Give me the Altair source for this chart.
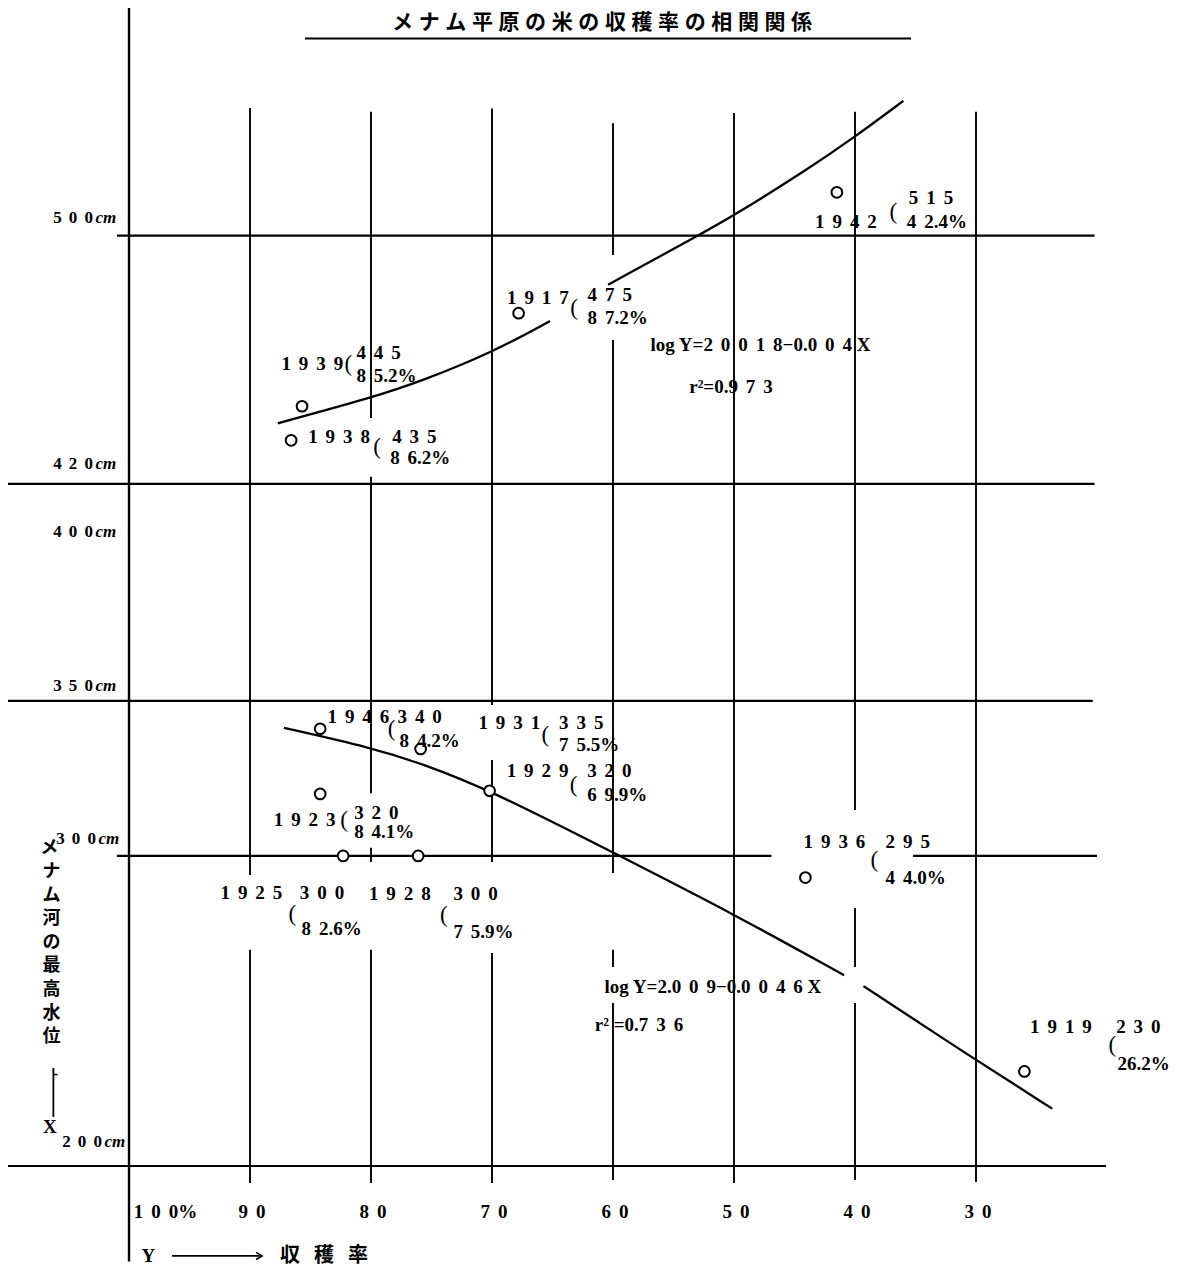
import altair as alt
import pandas as pd

# ---------------- data ----------------
title_text = "メナム平原の米の収穫率の相関関係"
y_title_chars = list("メナム河の最高水位")
x_title_chars = list("収穫率")

years = ["1942", "1917", "1939", "1938", "1946", "1931", "1929", "1923", "1925", "1928", "1936", "1919"]
harvest = [41.5, 67.8, 85.7, 86.6, 84.2, 75.9, 70.2, 84.2, 82.3, 76.1, 44.1, 26.0]   # % (plotted position)
level = [514, 475, 445, 434, 341, 334.5, 321, 320, 300, 300, 293, 230.5]             # cm (plotted position)
level_txt = ["515", "475", "445", "435", "340", "335", "320", "320", "300", "300", "295", "230"]
pct_txt = ["42.4%", "87.2%", "85.2%", "86.2%", "84.2%", "75.5%", "69.9%", "84.1%", "82.6%", "75.9%", "44.0%", "26.2%"]
pct_tight = ["1919"]   # printed without extra letter spacing

# fitted curves
upper_x = [87.7, 79.8, 75.9, 69.9, 65.2, 60.4, 52.8, 50.1, 43.8, 40.1, 36.0]
upper_y = [439.5, 447.9, 453.0, 462.5, 472.5, 484.2, 500.4, 506.3, 521.7, 531.6, 543.5]
upper_seg = ["a"] * 5 + ["b"] * 6
lower_x = [87.2, 79.8, 75.9, 70.2, 59.7, 50.0, 40.9, 39.3, 30.1, 23.7]
lower_y = [341.3, 334.7, 329.9, 321.3, 300.5, 281.2, 261.5, 258.0, 234.4, 218.5]
lower_seg = ["a"] * 7 + ["b"] * 3

eq_upper = ["log Y=20018−0.004 X", "r²=0.973"]
eq_lower = ["log Y=2.009−0.0046 X", "r² =0.736"]

x_ticks = [100, 90, 80, 70, 60, 50, 40, 30]
x_tick_labels = ["100%", "90", "80", "70", "60", "50", "40", "30"]
y_levels = [500, 420, 400, 350, 300, 200]
y_labels = ["500", "420", "400", "350", "300", "200"]

# ---------------- layout (picture geometry) ----------------
PX_X = 12.1     # pixels per 1 % of harvest rate
PX_Y = 3.101    # pixels per 1 cm of water level
X_DOM = [13.636, 110.0]
Y_DOM = [166.46, 573.43]
W, H = 1166, 1262

# horizontal grid lines: level, from %, to %
hgrid = [(500, 101.0, 20.2), (420, 110.0, 20.2), (350, 110.0, 20.35),
         (300, 101.0, 46.9), (300, 35.2, 20.0), (200, 110.0, 19.26)]
# vertical grid lines: %, top cm, bottom cm  (broken around the labels)
vgrid = [(90, 541.2, 293.8), (90, 269.7, 194.5),
         (80, 540.0, 441.2), (80, 422.3, 320.2), (80, 302.6, 298.0), (80, 269.7, 194.5),
         (70, 541.0, 348.7), (70, 330.9, 298.0), (70, 268.7, 194.5),
         (60, 536.3, 493.8), (60, 466.4, 294.5), (60, 269.7, 264.2), (60, 252.6, 195.5),
         (50, 539.6, 194.5),
         (40, 540.0, 314.8), (40, 283.2, 264.2), (40, 252.6, 195.5),
         (30, 540.0, 194.8)]

# label offsets in pixels (dx right, dy down) for: year, bracket, level, percent
offs = {
    "1942": [(-21.8, 30), (56.6, 20), (72, 5.3), (70, 30)],
    "1917": [(-11.6, -15.3), (55.4, -5.3), (69, -18.3), (69, 5)],
    "1939": [(-20.6, -42), (46.4, -42), (54.4, -53.3), (54.4, -30)],
    "1938": [(17, -3.3), (86, 6.7), (101, -3.3), (99, 18)],
    "1946": [(7.3, -12), (71.3, 0.3), (77.3, -12), (79.3, 12.3)],
    "1931": [(57.8, -26.3), (124.8, -14), (138.5, -26.3), (138.5, -4)],
    "1929": [(17.1, -19.7), (84.1, -6), (97.6, -19.7), (97.6, 4.3)],
    "1923": [(-46.4, 25.7), (24, 25.7), (34, 19), (34, 38.4)],
    "1925": [(-122.7, 36.7), (-50.9, 58.3), (-43.3, 36.7), (-41.7, 73.3)],
    "1928": [(-49.3, 37.7), (25.7, 59.3), (35.2, 37.7), (35.2, 76)],
    "1936": [(-1.8, -36), (68.9, -17.7), (80.2, -36), (80.2, 0.6)],
    "1919": [(5.7, -44.3), (88, -26), (91.8, -44.3), (93, -7.7)],
}

GAP = "\u2004\u200a"


def spaced(s):
    out = ""
    for i, ch in enumerate(s):
        out += ch
        if i + 1 < len(s) and ch.isdigit() and s[i + 1].isdigit():
            out += GAP
    return out


def shift(x, y, dx, dy):
    return x - dx / PX_X, y - dy / PX_Y


SERIF = "Liberation Serif"
CJK = "Noto Sans CJK JP"

xs = alt.Scale(domain=X_DOM, reverse=True, nice=False, zero=False)
ys = alt.Scale(domain=Y_DOM, nice=False, zero=False)


def ex(f="x"):
    return alt.X(f"{f}:Q", scale=xs, axis=None)


def ey(f="y"):
    return alt.Y(f"{f}:Q", scale=ys, axis=None)


def text_layer(rows, **kw):
    df = pd.DataFrame(rows, columns=["x", "y", "t"])
    base = dict(baseline="middle", color="black", font=SERIF, fontSize=19, fontWeight="bold")
    base.update(kw)
    return alt.Chart(df).mark_text(**base).encode(x=ex(), y=ey(), text="t:N")


layers = []

# grid lines
hdf = pd.DataFrame(hgrid, columns=["y", "x", "x2"])
layers.append(alt.Chart(hdf).mark_rule(color="black", strokeWidth=2.2).encode(
    x=ex(), x2="x2:Q", y=ey()))
vdf = pd.DataFrame(vgrid, columns=["x", "y", "y2"])
layers.append(alt.Chart(vdf).mark_rule(color="black", strokeWidth=1.9).encode(
    x=ex(), y=ey(), y2="y2:Q"))
# main vertical axis line (100 %)
adf = pd.DataFrame([(100, Y_DOM[1], 169.2)], columns=["x", "y", "y2"])
layers.append(alt.Chart(adf).mark_rule(color="black", strokeWidth=2.4).encode(
    x=ex(), y=ey(), y2="y2:Q"))

# curves
cdf = pd.concat([
    pd.DataFrame({"x": upper_x, "y": upper_y, "seg": ["u" + s for s in upper_seg]}),
    pd.DataFrame({"x": lower_x, "y": lower_y, "seg": ["l" + s for s in lower_seg]}),
])
layers.append(alt.Chart(cdf).mark_line(color="black", strokeWidth=2.3, interpolate="basis").encode(
    x=ex(), y=ey(), detail="seg:N"))

# points
pdf = pd.DataFrame({"x": harvest, "y": level, "year": years})
layers.append(alt.Chart(pdf).mark_point(shape="circle", size=115, fill="white", fillOpacity=1,
                                        stroke="black", strokeWidth=2, opacity=1).encode(x=ex(), y=ey()))

# point labels
yr_rows, par_rows, top_rows, bot_rows = [], [], [], []
for yv, hx, lv, lt, pt in zip(years, harvest, level, level_txt, pct_txt):
    o = offs[yv]
    yr_rows.append((*shift(hx, lv, *o[0]), spaced(yv)))
    par_rows.append((*shift(hx, lv, *o[1]), "("))
    top_rows.append((*shift(hx, lv, *o[2]), spaced(lt)))
    bot_rows.append((*shift(hx, lv, *o[3]), pt if yv in pct_tight else spaced(pt)))
layers.append(text_layer(yr_rows + top_rows + bot_rows, align="left"))
layers.append(text_layer(par_rows, align="center", fontSize=23, fontWeight="normal"))

# regression equations
layers.append(text_layer([(56.9, 464.8, spaced(eq_upper[0])), (53.7, 451.3, spaced(eq_upper[1])),
                          (60.7, 257.8, spaced(eq_lower[0])), (61.5, 245.5, spaced(eq_lower[1]))],
                         align="left"))

# x tick labels
xt_rows = [(v - 0.17, 185.2, spaced(t)) for v, t in zip(x_ticks[1:], x_tick_labels[1:])]
layers.append(text_layer(xt_rows, align="center"))
layers.append(text_layer([(99.6, 185.2, spaced(x_tick_labels[0]))], align="left"))

# y level labels (number + italic cm)
y_up_px = [17.4, 20, 14, 15, 17, 24]
y_right_px = [0, 0, 0, 0, 3, 9]
num_rows, cm_rows = [], []
for lv, lab, up, rs in zip(y_levels, y_labels, y_up_px, y_right_px):
    yy = lv + up / PX_Y
    num_rows.append((102.98 - rs / PX_X, yy, spaced(lab)))
    cm_rows.append((102.77 - rs / PX_X, yy, "cm"))
layers.append(text_layer(num_rows, align="right", fontSize=17))
layers.append(text_layer(cm_rows, align="left", fontSize=17, fontStyle="italic"))

# y axis title (vertical characters)
vt_rows = [(106.4 + (0.2 if i == 0 else 0), 302.4 - i * 23.6 / PX_Y, ch)
           for i, ch in enumerate(y_title_chars)]
layers.append(text_layer(vt_rows, align="center", font=CJK, fontSize=18))
ar_df = pd.DataFrame([(106.25, 231.6, 215.8)], columns=["x", "y", "y2"])
layers.append(alt.Chart(ar_df).mark_rule(color="black", strokeWidth=1.8).encode(x=ex(), y=ey(), y2="y2:Q"))
tk_df = pd.DataFrame([(106.25, 105.9, 229.5)], columns=["x", "x2", "y"])
layers.append(alt.Chart(tk_df).mark_rule(color="black", strokeWidth=1.5).encode(x=ex(), x2="x2:Q", y=ey()))
layers.append(text_layer([(106.55, 212.5, "X")], align="center"))

# x axis title: Y ——> 収穫率
layers.append(text_layer([(98.4, 171.0, "Y")], align="center"))
xa_df = pd.DataFrame([(96.45, 89.2, 171.0)], columns=["x", "x2", "y"])
layers.append(alt.Chart(xa_df).mark_rule(color="black", strokeWidth=1.6).encode(x=ex(), x2="x2:Q", y=ey()))
head_df = pd.DataFrame([(89.0, 171.0)], columns=["x", "y"])
layers.append(alt.Chart(head_df).mark_point(shape="M-1,-0.6L0,0L-1,0.6", size=144, filled=False,
                                            stroke="black", strokeWidth=1.6, opacity=1).encode(x=ex(), y=ey()))
xt_title = [(86.7 - i * 34 / PX_X, 171.0, ch) for i, ch in enumerate(x_title_chars)]
layers.append(text_layer(xt_title, align="center", font=CJK, fontSize=20))

# title (characters spread apart) with underline
ttl_rows = [(60.9 + (7.5 - i) * 26.6 / PX_X, 568.5, ch) for i, ch in enumerate(title_text)]
layers.append(text_layer(ttl_rows, align="center", font=CJK, fontSize=21))
ul_df = pd.DataFrame([(85.45, 35.37, 563.6)], columns=["x", "x2", "y"])
layers.append(alt.Chart(ul_df).mark_rule(color="black", strokeWidth=2).encode(x=ex(), x2="x2:Q", y=ey()))

chart = alt.layer(*layers).properties(
    width=W, height=H, padding=0,
    autosize=alt.AutoSizeParams(type="none"),
    background="white",
).configure_view(strokeWidth=0)

chart.save("out.html", embed_options={"renderer": "svg", "actions": False})
